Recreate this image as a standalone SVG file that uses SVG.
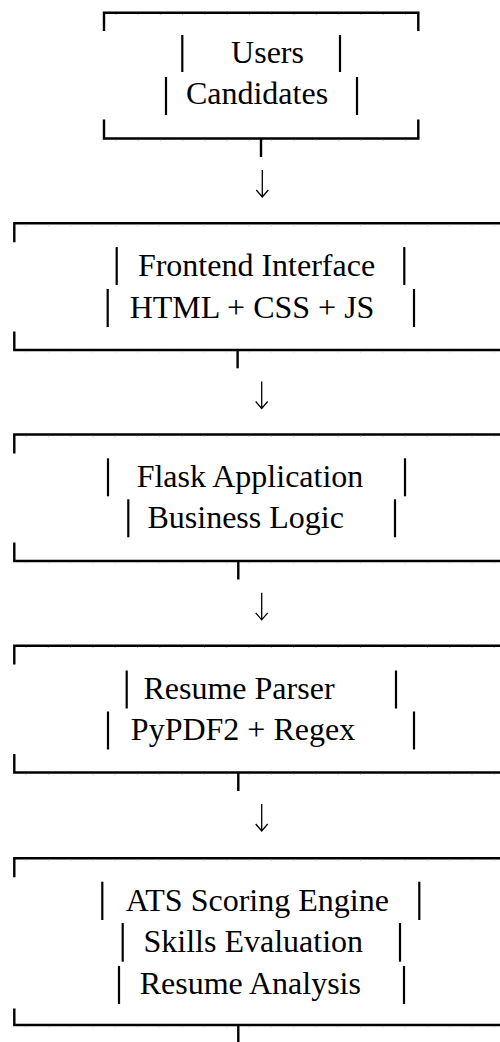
<svg xmlns="http://www.w3.org/2000/svg" width="500" height="1042" viewBox="0 0 500 1042">
<style>
.frame{fill:none;stroke:#000;stroke-width:2.4;stroke-linecap:butt}
.tick{fill:none;stroke:#b0b0b0;stroke-width:1;stroke-dasharray:1 21.3}
.bar{stroke:#000;stroke-width:2.2}
.lbl{font-family:"Liberation Serif","Times New Roman",serif;font-size:32px;fill:#000;text-anchor:middle}
.conn{fill:none;stroke:#000;stroke-width:2.4}
.arrow{fill:none;stroke:#000;stroke-width:1.3}
</style>
<rect width="500" height="1042" fill="#fff"/>

<g id="node-users">
  <path class="frame" d="M104,31 V12.7 H418.3 V31"/>
  <path class="frame" d="M104,119.5 V138.5 H418.3 V119.5"/>
  <path class="tick" d="M104,14.5 H418" stroke-dashoffset="-11.2"/>
  <path class="tick" d="M104,140.3 H418" stroke-dashoffset="-11.2"/>
  <line class="bar" x1="182.3" y1="35" x2="182.3" y2="72"/>
  <line class="bar" x1="340" y1="35" x2="340" y2="72"/>
  <text class="lbl" x="267.5" y="63.3">Users</text>
  <line class="bar" x1="166" y1="77" x2="166" y2="115"/>
  <line class="bar" x1="357" y1="77" x2="357" y2="115"/>
  <text class="lbl" x="257" y="103.5">Candidates</text>
</g>

<g id="node-frontend">
  <path class="frame" d="M14.3,242.3 V223.3 H510"/>
  <path class="frame" d="M14.3,331.5 V350 H510"/>
  <path class="tick" d="M14.3,225.1 H500" stroke-dashoffset="-11.2"/>
  <path class="tick" d="M14.3,351.8 H500" stroke-dashoffset="-11.2"/>
  <line class="bar" x1="116.7" y1="247" x2="116.7" y2="285"/>
  <line class="bar" x1="404.3" y1="247" x2="404.3" y2="285"/>
  <text class="lbl" x="256.5" y="276">Frontend Interface</text>
  <line class="bar" x1="107.7" y1="289" x2="107.7" y2="327"/>
  <line class="bar" x1="414" y1="289" x2="414" y2="327"/>
  <text class="lbl" x="252" y="317.7">HTML + CSS + JS</text>
</g>

<g id="node-flask">
  <path class="frame" d="M14.3,453.5 V434.5 H510"/>
  <path class="frame" d="M14.3,542.5 V561 H510"/>
  <path class="tick" d="M14.3,436.3 H500" stroke-dashoffset="-11.2"/>
  <path class="tick" d="M14.3,562.8 H500" stroke-dashoffset="-11.2"/>
  <line class="bar" x1="108" y1="458.3" x2="108" y2="496.3"/>
  <line class="bar" x1="405" y1="458.3" x2="405" y2="496.3"/>
  <text class="lbl" x="250" y="487.3">Flask Application</text>
  <line class="bar" x1="128.3" y1="499.3" x2="128.3" y2="537.3"/>
  <line class="bar" x1="395" y1="499.3" x2="395" y2="537.3"/>
  <text class="lbl" x="245.7" y="528.3">Business Logic</text>
</g>

<g id="node-parser">
  <path class="frame" d="M14.3,664.5 V645.7 H510"/>
  <path class="frame" d="M14.3,754 V772.5 H510"/>
  <path class="tick" d="M14.3,647.5 H500" stroke-dashoffset="-11.2"/>
  <path class="tick" d="M14.3,774.3 H500" stroke-dashoffset="-11.2"/>
  <line class="bar" x1="126.7" y1="670.5" x2="126.7" y2="708.5"/>
  <line class="bar" x1="396" y1="670.5" x2="396" y2="708.5"/>
  <text class="lbl" x="239" y="699.3">Resume Parser</text>
  <line class="bar" x1="108" y1="711.5" x2="108" y2="749.5"/>
  <line class="bar" x1="414" y1="711.5" x2="414" y2="749.5"/>
  <text class="lbl" x="243" y="740.3">PyPDF2 + Regex</text>
</g>

<g id="node-ats">
  <path class="frame" d="M14.3,877.3 V858.3 H510"/>
  <path class="frame" d="M14.3,1008.5 V1025 H510"/>
  <path class="tick" d="M14.3,860.1 H500" stroke-dashoffset="-11.2"/>
  <path class="tick" d="M14.3,1026.8 H500" stroke-dashoffset="-11.2"/>
  <line class="bar" x1="102.3" y1="881.7" x2="102.3" y2="920"/>
  <line class="bar" x1="419.3" y1="881.7" x2="419.3" y2="920"/>
  <text class="lbl" x="257.3" y="910.7">ATS Scoring Engine</text>
  <line class="bar" x1="122.7" y1="923" x2="122.7" y2="961.7"/>
  <line class="bar" x1="400" y1="923" x2="400" y2="961.7"/>
  <text class="lbl" x="253.3" y="951.7">Skills Evaluation</text>
  <line class="bar" x1="119" y1="966" x2="119" y2="1004"/>
  <line class="bar" x1="404" y1="966" x2="404" y2="1004"/>
  <text class="lbl" x="250.3" y="994">Resume Analysis</text>
</g>

<g id="connectors">
  <line class="conn" x1="261" y1="138.5" x2="261" y2="157"/>
  <path class="arrow" d="M262.3,170 V197 M256.3,190 L262.3,197 L268.3,190"/>
  <line class="conn" x1="237.6" y1="350" x2="237.6" y2="368.3"/>
  <path class="arrow" d="M261.7,381.5 V408.5 M255.7,401.5 L261.7,408.5 L267.7,401.5"/>
  <line class="conn" x1="238.3" y1="561" x2="238.3" y2="579.5"/>
  <path class="arrow" d="M261.7,592.8 V619.8 M255.7,612.8 L261.7,619.8 L267.7,612.8"/>
  <line class="conn" x1="238.3" y1="772.5" x2="238.3" y2="791"/>
  <path class="arrow" d="M261.7,804 V831 M255.7,824 L261.7,831 L267.7,824"/>
  <line class="conn" x1="238.3" y1="1025" x2="238.3" y2="1042"/>
</g>
</svg>
